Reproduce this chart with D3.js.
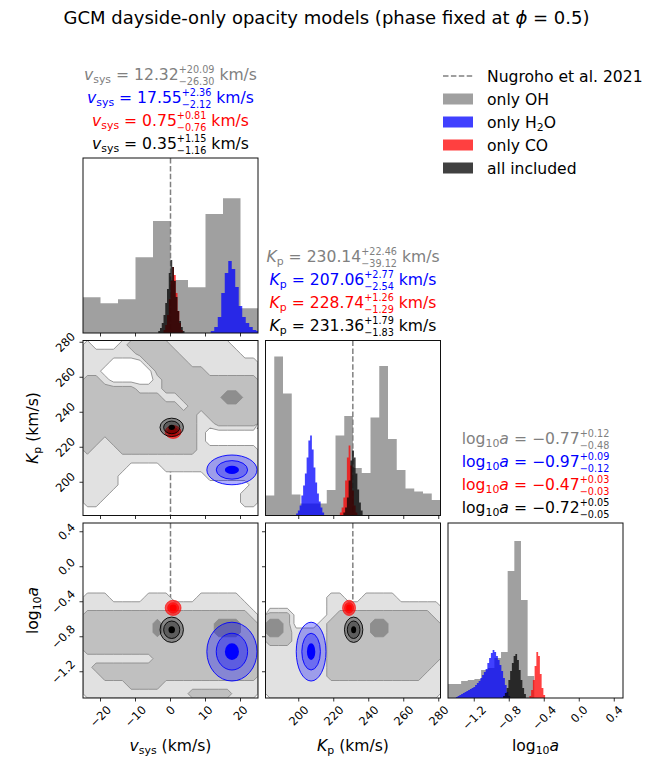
<!DOCTYPE html>
<html><head><meta charset="utf-8">
<script src="https://cdn.jsdelivr.net/npm/d3@7"></script>
<style>
body{margin:0;background:#fff}
svg{font-family:"DejaVu Sans",sans-serif}
svg text{white-space:pre}
</style>
</head><body>
<svg id="c" width="645" height="772"></svg>
<script>
// ---------------- DATA ----------------
const paramNames = ["vsys", "Kp", "log10a"];
const axisRanges = [[-25, 25], [181, 281], [-1.5, 0.5]];
const tickValues = [[-20, -10, 0, 10, 20], [200, 220, 240, 260, 280], [-1.2, -0.8, -0.4, 0.0, 0.4]];
const tickLabels = [["−20", "−10", "0", "10", "20"], ["200", "220", "240", "260", "280"], ["−1.2", "−0.8", "−0.4", "0.0", "0.4"]];
const refValues = [0, 230.9, null]; // Nugroho et al. 2021
const units = [" km/s", " km/s", ""];

const models = ["only OH", "only H2O", "only CO", "all included"];
const modelColors = ["#808080", "#0000ff", "#ff0000", "#000000"];

// median, +err, -err for each model (rows: OH, H2O, CO, all)
const vsysStats = [[12.32, 20.09, 26.30], [17.55, 2.36, 2.12], [0.75, 0.81, 0.76], [0.35, 1.15, 1.16]];
const kpStats = [[230.14, 22.46, 39.12], [207.06, 2.77, 2.54], [228.74, 1.26, 1.29], [231.36, 1.79, 1.83]];
const logaStats = [[-0.77, 0.12, 0.48], [-0.97, 0.09, 0.12], [-0.47, 0.03, 0.03], [-0.72, 0.05, 0.05]];

// 1D histograms (counts per bin)
const histMax = [175, 175, 175];
const ohHistVsys = {start: -25, width: 5, counts: [35.7, 29.7, 33.7, 75.7, 112, 53, 45.7, 119, 134.7, 24.7]};
const ohHistKp = {start: 181, width: 5, counts: [20, 159, 122, 21, 12, 12, 12, 25.5, 80, 99.5, 47.5, 42.5, 98, 149.5, 76.5, 45.5, 27, 24, 22, 15.5]};
const ohHistLoga = {start: -1.502, width: 0.076, counts: [14, 14, 17, 18, 19, 28, 30, 40, 46, 127, 157, 98, 22]};

const h2oHistVsys = {start: 11.5, width: 1, counts: [2, 6, 16, 40, 60, 72, 64, 46, 27, 16, 10, 6, 3, 2]};
const coHistVsys = {start: -2, width: 0.5, counts: [3, 8, 18, 34, 52, 66, 58, 40, 22, 10, 3]};
const allHistVsys = {start: -3.5, width: 0.5, counts: [2, 5, 10, 18, 30, 44, 60, 73, 66, 52, 36, 22, 12, 6, 2]};

const h2oHistKp = {start: 198.5, width: 1, counts: [2, 5, 10, 20, 30, 42, 58, 75, 80, 66, 48, 33, 22, 14, 8, 3]};
const coHistKp = {start: 223.5, width: 1, counts: [3, 8, 18, 35, 58, 70, 50, 25, 10, 3]};
const allHistKp = {start: 225.5, width: 1, counts: [3, 8, 18, 35, 55, 65, 58, 42, 26, 13, 5]};

const h2oHistLoga = {start: -1.41, width: 0.02, counts: [1, 2, 3, 4, 5, 6, 7, 8, 9, 10, 11, 13, 15, 17, 20, 23, 26, 29, 35, 40, 45, 48, 46, 42, 38, 33, 27, 20, 13, 6, 2]};
const coHistLoga = {start: -0.57, width: 0.02, counts: [2, 8, 18, 32, 46, 42, 24, 10, 3]};
const allHistLoga = {start: -0.87, width: 0.02, counts: [2, 5, 10, 18, 27, 35, 42, 44, 38, 28, 18, 10, 4]};

// OH 2D density levels (0 none, 1 light, 2 mid, 3+ dark); rows from top (high y) to bottom
const ohGridVsysKp = [
  "10001222221111111000",
  "11111122222111111100",
  "11100002222211111111",
  "11000000222222111111",
  "22100000122222222222",
  "22222211122222222222",
  "22222222211222224422",
  "22222222222122222222",
  "22222222222221222222",
  "22222222222221122222",
  "22222222222221000000",
  "22122222222221000000",
  "21112222222221111111",
  "11111111111111111111",
  "11111000011111111111",
  "11110000000000111111",
  "11110000000000000001",
  "11100000000000000011",
  "11000000000000000011",
  "00000000000000000000"];
const ohGridVsysLoga = [
  "00000000000000000000",
  "00000000000000000000",
  "00000000000000000000",
  "00000000000000000000",
  "00000000000000000000",
  "00000000000000000000",
  "00000000000000000000",
  "00000000000000000000",
  "11100001110001111100",
  "11111111111111111110",
  "22222222222222222221",
  "22222222322222233322",
  "22222222322222233322",
  "22222222222222222222",
  "22222222222222222222",
  "11111111222222222222",
  "12222222222222222222",
  "11222222222222222222",
  "11111222211111111111",
  "11111111111122222111"];
const ohGridKpLoga = [
  "00000000000000000000",
  "00000000000000000000",
  "00000000000000000000",
  "00000000000000000000",
  "00000000000000000000",
  "00000000000000000000",
  "00000000000000000000",
  "00000000000000000000",
  "00000001100111100000",
  "00000001111111111111",
  "22200001222222222221",
  "33200012222233222222",
  "33211112222233222222",
  "22211112222222222222",
  "11111112222222222222",
  "11111112222222222222",
  "11111112222222222221",
  "11111112222222222211",
  "11111111111111111111",
  "11111111111111111111"];

// ---------------- LAYOUT ----------------
const svg = d3.select("#c");
const P = 175;
const lefts = [83, 265.5, 448];
const tops = [158, 340.5, 523];
const FS = 15.6;
const SCRIPT = 0.62;

const xScales = axisRanges.map((r, k) => d3.scaleLinear().domain(r).range([lefts[k], lefts[k] + P]));
const yScalesFor = row => axisRanges.map(r => d3.scaleLinear().domain(r).range([tops[row] + P, tops[row]]));

const statsByParam = [vsysStats, kpStats, logaStats];
const ohHists = [ohHistVsys, ohHistKp, ohHistLoga];
const modelHists = [[h2oHistVsys, coHistVsys, allHistVsys], [h2oHistKp, coHistKp, allHistKp], [h2oHistLoga, coHistLoga, allHistLoga]];

const fmt = v => (v < 0 ? "−" : "") + Math.abs(v).toFixed(2);

function mathText(parent, x, y, segs, size, color, anchor, rotate) {
  const g = parent.append("g").attr("fill", color);
  let cx = 0;
  for (const s of segs) {
    if (s.stack) {
      const a = g.append("text").attr("x", cx).attr("y", -0.44 * size).attr("font-size", SCRIPT * size).text(s.sup);
      const b = g.append("text").attr("x", cx).attr("y", 0.30 * size).attr("font-size", SCRIPT * size).text(s.sub);
      cx += Math.max(a.node().getComputedTextLength(), b.node().getComputedTextLength());
    } else {
      const t = g.append("text").attr("x", cx).attr("y", s.sub ? 0.22 * size : 0)
        .attr("font-size", s.sub ? 0.7 * size : size)
        .attr("font-style", s.it ? "italic" : null).text(s.t);
      cx += t.node().getComputedTextLength();
    }
  }
  const dx = anchor === "middle" ? -cx / 2 : anchor === "end" ? -cx : 0;
  g.selectAll("text").attr("transform", `translate(${dx},0)`);
  g.attr("transform", `translate(${x},${y})` + (rotate ? ` rotate(${rotate})` : ""));
  return g;
}

const symbols = [
  [{t: "v", it: true}, {t: "sys", sub: true}],
  [{t: "K", it: true}, {t: "p", sub: true}],
  [{t: "log"}, {t: "10", sub: true}, {t: "a", it: true}]];

const defs = svg.append("defs");
function clipFor(id, x, y) {
  defs.append("clipPath").attr("id", id).append("rect").attr("x", x).attr("y", y).attr("width", P).attr("height", P);
  return `url(#${id})`;
}

function histArea(h, xs, ys) {
  const pts = h.counts.map((c, i) => [h.start + i * h.width, c]);
  pts.push([h.start + h.counts.length * h.width, h.counts[h.counts.length - 1]]);
  return d3.area().x(d => xs(d[0])).y0(ys(0)).y1(d => ys(d[1])).curve(d3.curveStepAfter)(pts);
}

function dashed(g, x1, y1, x2, y2) {
  g.append("line").attr("x1", x1).attr("y1", y1).attr("x2", x2).attr("y2", y2)
    .attr("stroke", "#808080").attr("stroke-width", 1.5).attr("stroke-dasharray", "5.5,2.4");
}

function frame(g, x, y) {
  g.append("rect").attr("x", x).attr("y", y).attr("width", P).attr("height", P)
    .attr("fill", "none").attr("stroke", "#111").attr("stroke-width", 1);
}

function xTicks(g, k, row, withLabels) {
  const y0 = tops[row] + P;
  tickValues[k].forEach((v, i) => {
    const x = xScales[k](v);
    g.append("line").attr("x1", x).attr("x2", x).attr("y1", y0).attr("y2", y0 + 3.5).attr("stroke", "#000").attr("stroke-width", 0.8);
    if (withLabels) {
      const t = g.append("text").attr("font-size", 11.5).attr("text-anchor", "middle").attr("dominant-baseline", "central").text(tickLabels[k][i]);
      const w = t.node().getComputedTextLength();
      const d = (w + 8) / Math.SQRT2;
      t.attr("transform", `translate(${x},${y0 + 7 + d / 2}) rotate(-45)`);
    }
  });
}

function yTicks(g, k, row, col, withLabels) {
  const x0 = lefts[col];
  const ys = yScalesFor(row)[k];
  tickValues[k].forEach((v, i) => {
    const y = ys(v);
    g.append("line").attr("x1", x0 - 3.5).attr("x2", x0).attr("y1", y).attr("y2", y).attr("stroke", "#000").attr("stroke-width", 0.8);
    if (withLabels) {
      const t = g.append("text").attr("font-size", 11.5).attr("text-anchor", "middle").attr("dominant-baseline", "central").text(tickLabels[k][i]);
      const w = t.node().getComputedTextLength();
      const d = (w + 8) / Math.SQRT2;
      t.attr("transform", `translate(${x0 - 7 - d / 2},${y}) rotate(-45)`);
    }
  });
}

const ohFills = ["#e1e1e1", "#c0c0c0", "#8e8e8e"];
function drawGrid(g, grid, xs, ys, xr, yr) {
  const rows = grid.length, cols = grid[0].length;
  const values = grid.flatMap(r => r.split("").map(Number));
  const cs = d3.contours().size([cols, rows]).thresholds([0.5, 1.5, 2.5])(values);
  const dx = (xr[1] - xr[0]) / cols, dy = (yr[1] - yr[0]) / rows;
  const proj = d3.geoTransform({point(px, py) { this.stream.point(xs(xr[0] + px * dx), ys(yr[1] - py * dy)); }});
  const path = d3.geoPath(proj);
  cs.forEach((c, i) => {
    g.append("path").attr("d", path(c)).attr("fill", ohFills[i]).attr("stroke", "#8c8c8c").attr("stroke-width", 0.9);
  });
}

// contour levels (in sigma) drawn for each model's 2D blob
const blobStyles = [
  null,
  {levels: [3.2, 2.0], fillOp: 0.3, strokeOp: 0.9, core: 0.9},
  {levels: [2.9, 2.0], fillOp: 0.65, strokeOp: 0.6, core: 1.3},
  {levels: [2.9, 2.0], fillOp: 0.3, strokeOp: 0.9, core: 0.8}];

function drawBlob(g, m, j, i, xs, ys) {
  const st = blobStyles[m];
  const sx = statsByParam[j][m], sy = statsByParam[i][m];
  const cx = sx[0], cy = sy[0];
  const ex = (sx[1] + sx[2]) / 2, ey = (sy[1] + sy[2]) / 2;
  const col = modelColors[m];
  st.levels.forEach(k => {
    g.append("ellipse").attr("cx", xs(cx)).attr("cy", ys(cy))
      .attr("rx", Math.abs(xs(cx + k * ex) - xs(cx))).attr("ry", Math.abs(ys(cy + k * ey) - ys(cy)))
      .attr("fill", col).attr("fill-opacity", st.fillOp)
      .attr("stroke", col).attr("stroke-opacity", st.strokeOp).attr("stroke-width", 1);
  });
  g.append("ellipse").attr("cx", xs(cx)).attr("cy", ys(cy))
    .attr("rx", Math.abs(xs(cx + st.core * ex) - xs(cx))).attr("ry", Math.abs(ys(cy + st.core * ey) - ys(cy)))
    .attr("fill", col);
}

const ohGrids = {"1-0": ohGridVsysKp, "2-0": ohGridVsysLoga, "2-1": ohGridKpLoga};

// ---------------- PANELS ----------------
for (let i = 0; i < 3; i++) {
  for (let j = 0; j <= i; j++) {
    const g = svg.append("g");
    const x0 = lefts[j], y0 = tops[i];
    const inner = g.append("g").attr("clip-path", clipFor(`cp${i}${j}`, x0, y0));
    const xs = xScales[j];
    if (i === j) {
      const ys = d3.scaleLinear().domain([0, histMax[i]]).range([y0 + P, y0]);
      if (refValues[i] !== null) dashed(inner, xs(refValues[i]), y0, xs(refValues[i]), y0 + P);
      inner.append("path").attr("d", histArea(ohHists[i], xs, ys)).attr("fill", modelColors[0]).attr("fill-opacity", 0.75);
      modelHists[i].forEach((h, m) => {
        inner.append("path").attr("d", histArea(h, xs, ys)).attr("fill", modelColors[m + 1]).attr("fill-opacity", 0.75);
      });
    } else {
      const ys = yScalesFor(i)[i];
      if (refValues[j] !== null) dashed(inner, xs(refValues[j]), y0, xs(refValues[j]), y0 + P);
      if (refValues[i] !== null) dashed(inner, x0, ys(refValues[i]), x0 + P, ys(refValues[i]));
      drawGrid(inner, ohGrids[`${i}-${j}`], xs, ys, axisRanges[j], axisRanges[i]);
      for (let m = 1; m < 4; m++) drawBlob(inner, m, j, i, xs, ys);
      yTicks(g, i, i, j, j === 0);
    }
    frame(g, x0, y0);
    xTicks(g, j, i, i === 2);
  }
}

// ---------------- TITLES ----------------
const titleBase = [149, 331, 513];
for (let k = 0; k < 3; k++) {
  const cx = lefts[k] + P / 2;
  statsByParam[k].forEach((s, m) => {
    const y = titleBase[k] - (3 - m) * 23;
    const segs = symbols[k].concat([{t: " = " + fmt(s[0])}, {stack: true, sup: "+" + s[1].toFixed(2), sub: "−" + s[2].toFixed(2)}, {t: units[k]}]);
    mathText(svg, cx, y, segs, FS, modelColors[m], "middle");
  });
}

// axis labels
const xLabelY = 751;
mathText(svg, lefts[0] + P / 2, xLabelY, symbols[0].concat([{t: " (km/s)"}]), FS, "#000", "middle");
mathText(svg, lefts[1] + P / 2, xLabelY, symbols[1].concat([{t: " (km/s)"}]), FS, "#000", "middle");
mathText(svg, lefts[2] + P / 2, xLabelY, symbols[2], FS, "#000", "middle");
mathText(svg, 38, tops[1] + P / 2, symbols[1].concat([{t: " (km/s)"}]), FS, "#000", "middle", -90);
mathText(svg, 38, tops[2] + P / 2, symbols[2], FS, "#000", "middle", -90);

// main title
const title = svg.append("text").attr("x", 326.5).attr("y", 24).attr("font-size", 18).attr("text-anchor", "middle");
title.append("tspan").text("GCM dayside-only opacity models (phase fixed at ");
title.append("tspan").attr("font-style", "italic").text("ϕ");
title.append("tspan").text(" = 0.5)");

// legend
const lg = svg.append("g");
const lx = 443, ly = 76, lstep = 23;
dashed(lg, lx, ly, lx + 30, ly);
lg.append("text").attr("x", lx + 44).attr("y", ly + 5.5).attr("font-size", FS).text("Nugroho et al. 2021");
const legendLabels = [[{t: "only OH"}], [{t: "only H"}, {t: "2", sub: true}, {t: "O"}], [{t: "only CO"}], [{t: "all included"}]];
legendLabels.forEach((segs, m) => {
  const y = ly + (m + 1) * lstep;
  lg.append("rect").attr("x", lx).attr("y", y - 5.5).attr("width", 30).attr("height", 11)
    .attr("fill", modelColors[m]).attr("fill-opacity", 0.75);
  mathText(lg, lx + 44, y + 5.5, segs, FS, "#000", "start");
});
</script>
</body></html>
